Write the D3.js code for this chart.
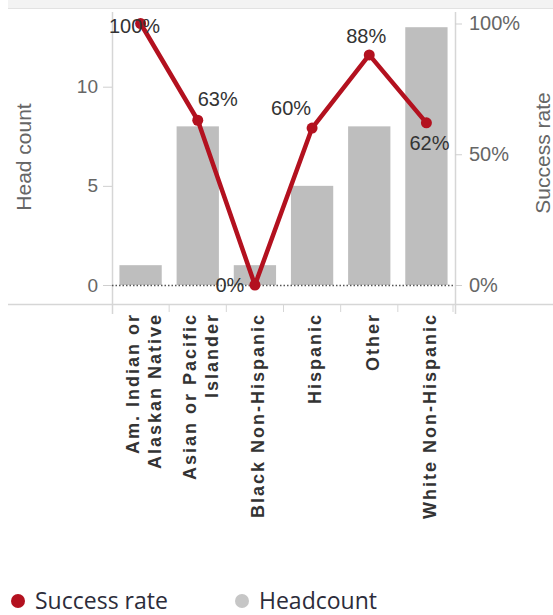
<!DOCTYPE html>
<html>
<head>
<meta charset="utf-8">
<script src="https://cdn.jsdelivr.net/npm/d3@7"></script>
<style>
  html, body { margin: 0; padding: 0; background: #fff; }
  svg { display: block; }
</style>
</head>
<body>
<svg id="chart" width="553" height="615"></svg>
<script>
// ---- data ----
const categories = [
  ["Am. Indian or", "Alaskan Native"],
  ["Asian or Pacific", "Islander"],
  ["Black Non-Hispanic"],
  ["Hispanic"],
  ["Other"],
  ["White Non-Hispanic"]
];
const headcount = [1, 8, 1, 5, 8, 13];
const successRate = [1.00, 0.63, 0.00, 0.60, 0.88, 0.62];
const successLabels = ["100%", "63%", "0%", "60%", "88%", "62%"];
const leftTicks = [0, 5, 10];
const rightTicks = [0, 0.5, 1];
const rightTickLabels = ["0%", "50%", "100%"];
const legendItems = ["Success rate", "Headcount"];

// ---- layout ----
const svg = d3.select("#chart");
const W = 553, H = 615;
const left = 112, right = 455, zeroY = 285;
const RED = "#b3111f", BAR = "#bebebe";
const keys = categories.map(c => c.join(" "));

const x = d3.scaleBand().domain(keys).range([left, right]).paddingInner(0.26).paddingOuter(0.13);
const yL = d3.scaleLinear().domain([0, 10]).range([zeroY, 86.7]);
const yR = d3.scaleLinear().domain([0, 1]).range([zeroY, 23.5]);

// top band (cropped title area)
svg.append("rect").attr("x", 8).attr("y", -1).attr("width", W - 8).attr("height", 9)
  .attr("fill", "#f3f3f3");
svg.append("line").attr("x1", 8).attr("x2", W).attr("y1", 8.5).attr("y2", 8.5)
  .attr("stroke", "#e2e2e2");

// frame lines
svg.append("line").attr("x1", 8).attr("x2", W).attr("y1", 304.5).attr("y2", 304.5)
  .attr("stroke", "#d6d6d6").attr("stroke-width", 1.5);
svg.append("line").attr("x1", left + 0.5).attr("x2", left + 0.5).attr("y1", 12).attr("y2", 314)
  .attr("stroke", "#d6d6d6").attr("stroke-width", 1.5);
svg.append("line").attr("x1", right + 0.5).attr("x2", right + 0.5).attr("y1", 12).attr("y2", 314)
  .attr("stroke", "#d6d6d6").attr("stroke-width", 1.5);

// x separators
const seps = keys.map(k => x(k) - x.step() * x.paddingInner() / 2).concat([right - 2]);
svg.append("g").selectAll("line").data(seps.slice(1)).join("line")
  .attr("x1", d => d).attr("x2", d => d).attr("y1", 304).attr("y2", 312)
  .attr("stroke", "#d6d6d6");

// left axis
const gL = svg.append("g").attr("transform", `translate(${left},0)`)
  .call(d3.axisLeft(yL).tickValues(leftTicks).tickSize(9).tickPadding(5));
gL.select(".domain").remove();
gL.selectAll(".tick line").attr("stroke", "#cfcfcf");
gL.selectAll(".tick text").attr("font-family", "Liberation Sans, Arial, sans-serif")
  .attr("font-size", 19).attr("fill", "#666");

// right axis
const gR = svg.append("g").attr("transform", `translate(${right},0)`)
  .call(d3.axisRight(yR).tickValues(rightTicks).tickFormat((d, i) => rightTickLabels[i]).tickSize(7).tickPadding(7));
gR.select(".domain").remove();
gR.selectAll(".tick line").attr("stroke", "#cfcfcf");
gR.selectAll(".tick text").attr("font-family", "Liberation Sans, Arial, sans-serif")
  .attr("font-size", 20).attr("fill", "#666");

// axis titles
svg.append("text").attr("transform", `translate(31,157) rotate(-90)`)
  .attr("text-anchor", "middle").attr("font-family", "Liberation Sans, Arial, sans-serif")
  .attr("font-size", 21).attr("fill", "#666").text("Head count");
svg.append("text").attr("transform", `translate(550,153) rotate(-90)`)
  .attr("text-anchor", "middle").attr("font-family", "Liberation Sans, Arial, sans-serif")
  .attr("font-size", 21).attr("fill", "#666").text("Success rate");

// bars
svg.append("g").selectAll("rect").data(headcount).join("rect")
  .attr("x", (d, i) => x(keys[i])).attr("width", x.bandwidth())
  .attr("y", d => yL(d)).attr("height", d => yL(0) - yL(d))
  .attr("fill", BAR);

// zero dotted line
svg.append("line").attr("x1", left).attr("x2", right).attr("y1", zeroY + 0.5).attr("y2", zeroY + 0.5)
  .attr("stroke", "#555").attr("stroke-width", 1.3).attr("stroke-dasharray", "1.5,2");

// line
const cx = i => x(keys[i]) + x.bandwidth() / 2;
svg.append("path").datum(successRate)
  .attr("d", d3.line().x((d, i) => cx(i)).y(d => yR(d)))
  .attr("fill", "none").attr("stroke", RED).attr("stroke-width", 4.5).attr("stroke-linejoin", "round");
svg.append("g").selectAll("circle").data(successRate).join("circle")
  .attr("cx", (d, i) => cx(i)).attr("cy", d => yR(d)).attr("r", 5.5).attr("fill", RED);

// data labels (placement relative to each point)
const place = [[-6, 2], [20, -21], [-25, 0], [-21, -20], [-3, -19], [3, 20]];
svg.append("g").selectAll("text").data(successLabels).join("text")
  .attr("x", (d, i) => cx(i) + place[i][0])
  .attr("y", (d, i) => yR(successRate[i]) + place[i][1])
  .attr("text-anchor", "middle").attr("dominant-baseline", "central")
  .attr("font-family", "Liberation Sans, Arial, sans-serif").attr("font-size", 20)
  .attr("fill", "#333").text(d => d);

// x labels
const gx = svg.append("g");
categories.forEach((lines, i) => {
  const n = lines.length;
  lines.forEach((ln, j) => {
    const off = (j - (n - 1) / 2) * 22 + 3;
    gx.append("text")
      .attr("transform", `translate(${cx(i) + off},313) rotate(-90)`)
      .attr("text-anchor", "end").attr("dy", "0.35em")
      .attr("font-family", "Liberation Sans, Arial, sans-serif").attr("font-weight", "bold")
      .attr("font-size", 18).attr("letter-spacing", 2).attr("fill", "#333")
      .text(ln);
  });
});

// legend
const legX = [18, 242];
const legColors = [RED, "#c6c6c6"];
const lg = svg.append("g");
legendItems.forEach((t, i) => {
  lg.append("circle").attr("cx", legX[i]).attr("cy", 601).attr("r", 7).attr("fill", legColors[i]);
  lg.append("text").attr("x", legX[i] + 17).attr("y", 609)
    .attr("font-family", "Open Sans, sans-serif").attr("font-size", 23)
    .attr("fill", "#2c2c3a").text(t);
});
</script>
</body>
</html>
